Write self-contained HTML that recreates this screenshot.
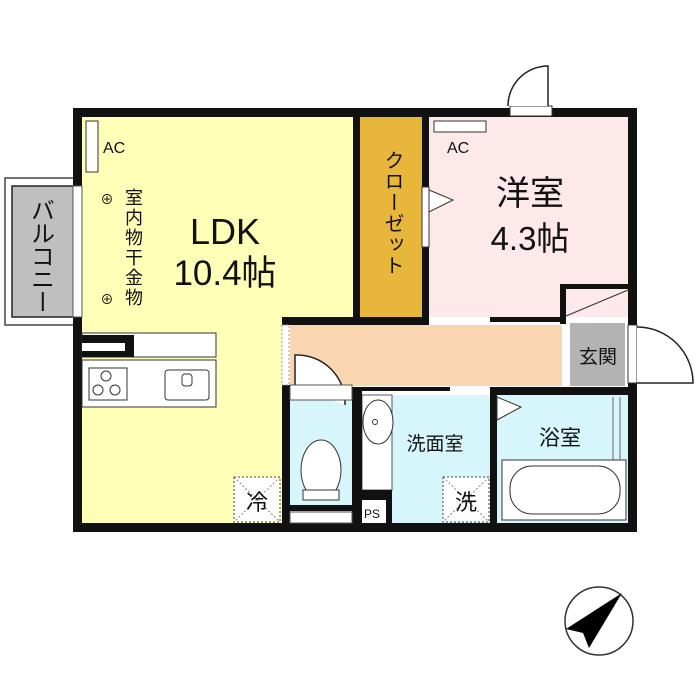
<!DOCTYPE html>
<html><head><meta charset="utf-8"><style>html,body{margin:0;padding:0;background:#fff}svg{display:block}</style></head><body>
<svg width="700" height="700" viewBox="0 0 700 700" xmlns="http://www.w3.org/2000/svg" font-family="'Liberation Sans','Noto Sans CJK JP',sans-serif">
<!-- balcony -->
<rect x="5" y="178" width="70" height="147" fill="#fff" stroke="#444" stroke-width="1.5"/>
<rect x="12" y="186" width="63" height="131" fill="#bfbfbf" stroke="#222" stroke-width="1.5"/>
<text x="40" y="198" font-size="24" fill="#111" style="writing-mode:vertical-rl;letter-spacing:-1px">バルコニー</text>
<!-- fills -->
<rect x="82" y="117" width="271" height="408" fill="#ffffb8"/>
<rect x="360" y="117" width="62" height="200" fill="#e8b63a"/>
<rect x="429" y="117" width="200" height="200" fill="#fde8ea"/>
<rect x="290" y="325" width="272" height="61" fill="#fad6b0"/>
<rect x="290" y="400" width="62" height="115" fill="#d6f6fb"/>
<rect x="392" y="395" width="98" height="128" fill="#d6f6fb"/>
<rect x="362" y="395" width="30" height="95" fill="#fff" stroke="#555" stroke-width="1"/>
<rect x="497" y="395" width="131" height="128" fill="#d6f6fb"/>
<rect x="570" y="323" width="55" height="63" fill="#b3b3b3"/>
<!-- walls -->
<g fill="#111">
<rect x="73" y="108" width="564" height="9"/>
<rect x="73" y="108" width="9" height="424"/>
<rect x="73" y="523" width="564" height="9"/>
<rect x="628" y="108" width="9" height="424"/>
<rect x="353" y="108" width="7" height="217"/>
<rect x="422" y="108" width="7" height="217"/>
<rect x="282" y="317" width="146" height="8"/>
<rect x="282" y="385" width="8" height="147"/>
<rect x="352" y="387" width="10" height="145"/>
<rect x="490" y="387" width="147" height="8"/>
<rect x="490" y="387" width="7" height="145"/>
<rect x="560" y="284" width="6" height="40"/>
<rect x="560" y="284" width="70" height="5"/>
<rect x="362" y="387" width="88" height="4"/>
<rect x="490" y="317" width="70" height="5"/>
</g>
<!-- doors/windows -->
<rect x="510" y="106" width="42" height="10" fill="#fff" stroke="#333"/>
<path d="M548 106 V66 A40 40 0 0 0 508 106" fill="#fff" stroke="#222" stroke-width="1.5"/>
<rect x="422" y="187" width="7" height="60" fill="#fff" stroke="#333"/>
<path d="M429 190 L453 200 L429 212 Z" fill="#fff" stroke="#333"/>
<rect x="628" y="325" width="9" height="58" fill="#fff" stroke="#333"/>
<path d="M637 327 A56 56 0 0 1 693 383 H637" fill="#fff" stroke="#222" stroke-width="1.5"/>
<line x1="566" y1="316" x2="628" y2="290" stroke="#333"/>
<rect x="73" y="186" width="9" height="131" fill="#fff" stroke="#555"/>
<path d="M295 385 V355 A48 48 0 0 1 345 405" fill="#fff" stroke="#222" stroke-width="1.5"/>
<rect x="290" y="385" width="62" height="15" fill="#fff" stroke="#555"/>
<rect x="282" y="325" width="7" height="60" fill="#fff" stroke="#999" stroke-dasharray="2 2"/>
<path d="M497 397 V420 L521 407 Z" fill="#fff" stroke="#333"/>
<!-- AC -->
<rect x="86" y="121" width="12" height="51" fill="#fff" stroke="#333"/>
<text x="103" y="153" font-size="16" fill="#111">AC</text>
<rect x="434" y="121" width="52" height="11" fill="#fff" stroke="#333"/>
<text x="447" y="153" font-size="16" fill="#111">AC</text>
<!-- LDK -->
<text x="225" y="244" font-size="36" text-anchor="middle" fill="#111">LDK</text>
<text x="225" y="285" font-size="35" text-anchor="middle" fill="#111">10.4帖</text>
<text x="133" y="188" font-size="18" fill="#111" style="writing-mode:vertical-rl;letter-spacing:2px">室内物干金物</text>
<text x="107" y="204" font-size="13" text-anchor="middle">⊕</text>
<text x="107" y="304" font-size="13" text-anchor="middle">⊕</text>
<!-- kitchen -->
<rect x="82" y="333" width="134" height="24" fill="#fff" stroke="#333"/>
<rect x="82" y="335" width="52" height="22" fill="#111"/>
<rect x="82" y="343" width="43" height="8" fill="#fff"/>
<rect x="82" y="360" width="134" height="47" fill="#fff" stroke="#333"/>
<rect x="89" y="368" width="38" height="32" fill="#fff" stroke="#333"/>
<circle cx="106" cy="376" r="5" fill="none" stroke="#333"/><circle cx="98" cy="390" r="5" fill="none" stroke="#333"/><circle cx="115" cy="390" r="5" fill="none" stroke="#333"/>
<rect x="165" y="370" width="44" height="30" rx="3" fill="#fff" stroke="#333"/>
<rect x="182" y="374" width="10" height="12" rx="3" fill="#fff" stroke="#333"/>
<!-- closet -->
<text x="392" y="150" font-size="20" fill="#111" style="writing-mode:vertical-rl;letter-spacing:1px">クローゼット</text>
<!-- youshitsu -->
<text x="530" y="205" font-size="34" text-anchor="middle" fill="#111">洋室</text>
<text x="530" y="250" font-size="33" text-anchor="middle" fill="#111">4.3帖</text>
<text x="598" y="363" font-size="19" text-anchor="middle" fill="#111">玄関</text>
<!-- toilet -->
<ellipse cx="321" cy="470" rx="20" ry="30" fill="#fff" stroke="#333"/>
<rect x="303" y="490" width="36" height="10" fill="#fff" stroke="#333"/>
<rect x="290" y="505" width="62" height="6" fill="#111"/>
<rect x="290" y="512" width="62" height="11" fill="#fff" stroke="#555"/>
<!-- washroom -->
<ellipse cx="378" cy="422" rx="15" ry="22" fill="#fff" stroke="#333"/>
<circle cx="375" cy="422" r="2.5" fill="none" stroke="#333"/>
<rect x="360" y="490" width="32" height="33" fill="#111"/>
<rect x="362" y="500" width="24" height="23" fill="#fff"/>
<text x="372" y="518" font-size="12" text-anchor="middle" fill="#111">PS</text>
<text x="435" y="450" font-size="19" text-anchor="middle" fill="#111">洗面室</text>
<rect x="443" y="477" width="46" height="45" fill="#fff" stroke="#444" stroke-dasharray="2 2"/>
<line x1="443" y1="477" x2="489" y2="522" stroke="#888" stroke-dasharray="2 2"/><line x1="489" y1="477" x2="443" y2="522" stroke="#888" stroke-dasharray="2 2"/>
<text x="466" y="510" font-size="22" text-anchor="middle" fill="#111">洗</text>
<rect x="234" y="477" width="46" height="45" fill="#fff" stroke="#444" stroke-dasharray="2 2"/>
<line x1="234" y1="477" x2="280" y2="522" stroke="#888" stroke-dasharray="2 2"/><line x1="280" y1="477" x2="234" y2="522" stroke="#888" stroke-dasharray="2 2"/>
<text x="257" y="510" font-size="22" text-anchor="middle" fill="#111">冷</text>
<!-- bath -->
<text x="560" y="445" font-size="21" text-anchor="middle" fill="#111">浴室</text>
<rect x="502" y="460" width="124" height="60" fill="#fff" stroke="#333"/>
<rect x="510" y="466" width="110" height="48" rx="22" fill="#fff" stroke="#333"/>
<line x1="613" y1="397" x2="613" y2="460" stroke="#666"/><line x1="620" y1="397" x2="620" y2="460" stroke="#666"/>
<!-- compass -->
<circle cx="599" cy="621" r="34" fill="none" stroke="#333" stroke-width="1.5"/>
<path d="M622 593 L566 629 L583 633 L589 648 Z" fill="#000"/>
</svg>
</body></html>
